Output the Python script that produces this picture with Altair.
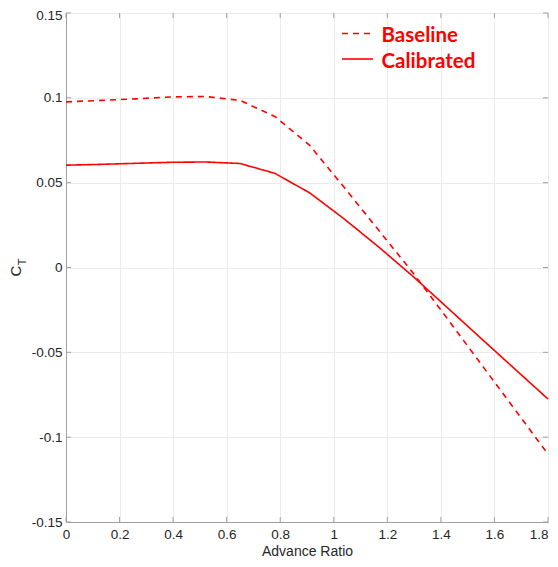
import altair as alt
import pandas as pd

J = [0.0, 0.13, 0.26, 0.39, 0.52, 0.65, 0.78, 0.91, 1.04, 1.17, 1.30, 1.43, 1.56, 1.69, 1.80]
baseline = [0.0976, 0.0985, 0.0994, 0.1005, 0.1008, 0.0985, 0.0890, 0.0720, 0.0470, 0.0215, -0.0040,
            -0.0314, -0.0590, -0.0866, -0.1100]
calibrated = [0.0603, 0.0608, 0.0614, 0.0620, 0.0622, 0.0613, 0.0555, 0.0440, 0.0285, 0.0118, -0.0058,
              -0.0245, -0.0432, -0.0618, -0.0775]
series = ["Baseline", "Calibrated"]
x_ticks = [0, 0.2, 0.4, 0.6, 0.8, 1.0, 1.2, 1.4, 1.6, 1.8]
y_ticks = [-0.15, -0.1, -0.05, 0, 0.05, 0.1, 0.15]

W, H = 482, 509
RED = "#ff0000"
DASH = [6, 5]

rows = []
for j, b, c in zip(J, baseline, calibrated):
    rows.append({"J": j, "CT": b, "series": series[0]})
    rows.append({"J": j, "CT": c, "series": series[1]})
df = pd.DataFrame(rows)

xs = alt.Scale(domain=[0, 1.8], nice=False, zero=False)
ys = alt.Scale(domain=[-0.15, 0.15], nice=False, zero=False)
FONT = "Liberation Sans"
lab = "replace(format(datum.value, '~g'), '\u2212', '-')"

xaxis = alt.Axis(values=x_ticks, labelExpr=lab, title="Advance Ratio", titleFontSize=14,
                 titleFontWeight="normal", titlePadding=4, ticks=False, labelPadding=5,
                 labelAlign={"condition": {"test": "datum.value >= 1.8", "value": "right"}, "value": "center"})
yaxis = alt.Axis(values=y_ticks, labelExpr=lab, title=None, ticks=False, labelPadding=4,
                 labelOffset={"condition": {"test": "datum.value >= 0.15", "value": 2.5}, "value": 0})

lines = alt.Chart(df).mark_line(color=RED, strokeWidth=1.6).encode(
    x=alt.X("J:Q", scale=xs, axis=xaxis),
    y=alt.Y("CT:Q", scale=ys, axis=yaxis),
    strokeDash=alt.StrokeDash(
        "series:N",
        scale=alt.Scale(domain=series, range=[DASH, [1, 0]]),
        legend=None,
    ),
)

xt = pd.DataFrame({"v": x_ticks})
yt = pd.DataFrame({"v": y_ticks})
tc = "#a0a0a0"
tick_b = alt.Chart(xt).mark_rule(color=tc).encode(x=alt.X("v:Q", scale=xs), y=alt.value(H), y2=alt.value(H - 5))
tick_t = alt.Chart(xt).mark_rule(color=tc).encode(x=alt.X("v:Q", scale=xs), y=alt.value(0), y2=alt.value(5))
tick_l = alt.Chart(yt).mark_rule(color=tc).encode(y=alt.Y("v:Q", scale=ys), x=alt.value(0), x2=alt.value(5))
tick_r = alt.Chart(yt).mark_rule(color=tc).encode(y=alt.Y("v:Q", scale=ys), x=alt.value(W - 5), x2=alt.value(W))

# legend (inside the plot, top right)
leg_b = pd.DataFrame({"s": [series[0]]})
leg_c = pd.DataFrame({"s": [series[1]]})
sym_b = alt.Chart(leg_b).mark_rule(color=RED, strokeWidth=1.6, strokeDash=DASH).encode(
    x=alt.value(276), x2=alt.value(307), y=alt.value(20.5))
sym_c = alt.Chart(leg_c).mark_rule(color=RED, strokeWidth=1.6).encode(
    x=alt.value(276), x2=alt.value(307), y=alt.value(46))
txt_style = dict(font="Lato", fontSize=20.5, fontWeight="bold", color=RED, align="left", baseline="alphabetic")
txt_b = alt.Chart(leg_b).mark_text(**txt_style).encode(text="s:N", x=alt.value(315.5), y=alt.value(28.7))
txt_c = alt.Chart(leg_c).mark_text(**txt_style).encode(text="s:N", x=alt.value(315.5), y=alt.value(55.3))

ylab = pd.DataFrame({"t": ["C"]})
ysub = pd.DataFrame({"t": ["T"]})
c_text = alt.Chart(ylab).mark_text(angle=270, font=FONT, fontSize=15, color="#262626").encode(
    text="t:N", x=alt.value(-50), y=alt.value(258))
t_text = alt.Chart(ysub).mark_text(angle=270, font=FONT, fontSize=11, color="#262626").encode(
    text="t:N", x=alt.value(-43), y=alt.value(249))

chart = alt.layer(lines, tick_b, tick_t, tick_l, tick_r, sym_b, sym_c, txt_b, txt_c, c_text, t_text).properties(
    width=W, height=H,
    autosize=alt.AutoSizeParams(type="none"),
    padding={"left": 58, "top": 5, "right": 2, "bottom": 37},
).configure_view(stroke="#a0a0a0", strokeWidth=1).configure_axis(
    grid=True, gridColor="#ebebeb", domainColor="#a0a0a0", labelColor="#262626",
    labelFont=FONT, labelFontSize=13.5, titleFont=FONT, titleColor="#262626",
)

chart.save("out.html", embed_options={"renderer": "svg", "actions": False})
